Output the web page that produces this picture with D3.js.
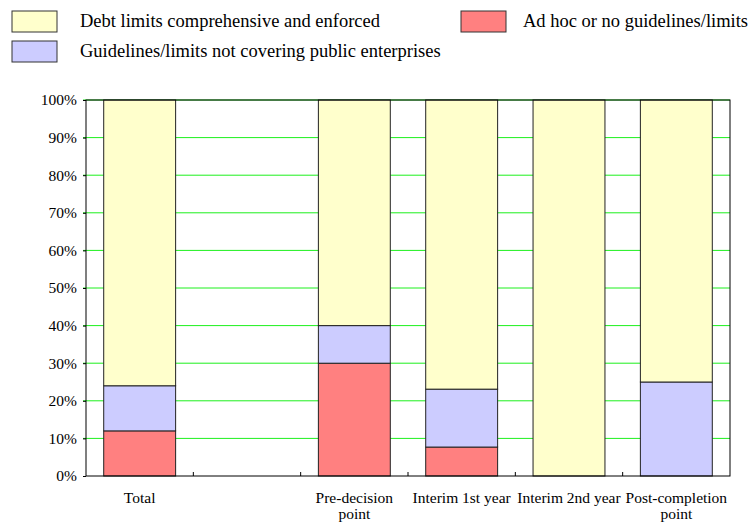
<!DOCTYPE html>
<html>
<head>
<meta charset="utf-8">
<script src="https://cdn.jsdelivr.net/npm/d3@7"></script>
<style>
  html, body { margin: 0; padding: 0; background: #fff; }
  svg { display: block; }
  text { font-family: "Liberation Serif", "Times New Roman", serif; fill: #000; }
</style>
</head>
<body>
<svg id="chart" width="752" height="526"></svg>
<script>
// Stage of the process (second slot is left blank)
const categories = ["Total", "", "Pre-decision point", "Interim 1st year", "Interim 2nd year", "Post-completion point"];
const categoryLines = [["Total"], [], ["Pre-decision", "point"], ["Interim 1st year"], ["Interim 2nd year"], ["Post-completion", "point"]];

// Share of cases (%) by type of debt limits
const adHoc         = [12, null, 30, 7.7, 0, 0];
const partialLimits = [12, null, 10, 15.4, 0, 25];
const comprehensive = [76, null, 60, 76.9, 100, 75];

const seriesNames  = ["Ad hoc or no guidelines/limits", "Guidelines/limits not covering public enterprises", "Debt limits comprehensive and enforced"];
const seriesColors = ["#ff8080", "#ccccff", "#ffffcc"];
const yTicks = [0, 10, 20, 30, 40, 50, 60, 70, 80, 90, 100];

const svg = d3.select("#chart");
const margin = { left: 86, right: 22, top: 100, bottom: 50 };
const W = 752, H = 526;
const plotW = W - margin.left - margin.right;
const plotH = H - margin.top - margin.bottom;

const x = d3.scaleBand().domain(d3.range(categories.length)).range([margin.left, margin.left + plotW]).paddingInner(0.33).paddingOuter(0.165);
const xBand = d3.scaleBand().domain(d3.range(categories.length)).range([margin.left, margin.left + plotW]);
const y = d3.scaleLinear().domain([0, 100]).range([margin.top + plotH, margin.top]);

// Gridlines
svg.append("g")
  .selectAll("line")
  .data(yTicks.filter(t => t > 0))
  .join("line")
  .attr("x1", margin.left - 3).attr("x2", margin.left + plotW)
  .attr("y1", d => y(d)).attr("y2", d => y(d))
  .attr("stroke", "#1cf01c").attr("stroke-width", 1);

// Stacked bars
const rows = categories.map((c, i) => ({ i, a: adHoc[i], b: partialLimits[i], c: comprehensive[i] }))
  .filter(r => r.a !== null);
const stack = d3.stack().keys(["a", "b", "c"]);
const layers = stack(rows);

svg.append("g")
  .selectAll("g")
  .data(layers)
  .join("g")
  .attr("fill", (d, k) => seriesColors[k])
  .selectAll("rect")
  .data(d => d.filter(p => p[1] - p[0] > 0))
  .join("rect")
  .attr("x", p => x(p.data.i))
  .attr("width", x.bandwidth())
  .attr("y", p => y(p[1]))
  .attr("height", p => y(p[0]) - y(p[1]))
  .attr("stroke", "#222")
  .attr("stroke-width", 1);

// Plot frame
svg.append("rect")
  .attr("x", margin.left).attr("y", margin.top)
  .attr("width", plotW).attr("height", plotH)
  .attr("fill", "none").attr("stroke", "#000").attr("stroke-width", 1);

// Y axis
const yAxis = d3.axisLeft(y).tickValues(yTicks).tickFormat(d => d + "%").tickSize(3).tickPadding(6);
const yg = svg.append("g").attr("transform", `translate(${margin.left},0)`).call(yAxis)
  .attr("font-family", "Liberation Serif");
yg.select(".domain").remove();
yg.selectAll("text").style("font-size", "15.5px");

// X axis: boundary ticks pointing inward
svg.append("g")
  .selectAll("line")
  .data(d3.range(1, categories.length))
  .join("line")
  .attr("x1", i => xBand(i)).attr("x2", i => xBand(i))
  .attr("y1", margin.top + plotH).attr("y2", margin.top + plotH - 4)
  .attr("stroke", "#000");

const xl = svg.append("g")
  .selectAll("text")
  .data(categoryLines.map((lines, i) => ({ lines, i })))
  .join("text")
  .attr("text-anchor", "middle")
  .style("font-size", "15.5px")
  .attr("x", d => x(d.i) + x.bandwidth() / 2)
  .attr("y", margin.top + plotH + 27);
xl.selectAll("tspan")
  .data(d => d.lines.map((l, k) => ({ l, k, cx: x(d.i) + x.bandwidth() / 2 })))
  .join("tspan")
  .attr("x", t => t.cx)
  .attr("dy", t => t.k === 0 ? 0 : 16)
  .text(t => t.l);

// Legend
const legendItems = [
  { k: 2, x: 12, y: 11, tx: 68 },
  { k: 0, x: 461, y: 11, tx: 62 },
  { k: 1, x: 12, y: 41, tx: 68 }
];
const lg = svg.append("g").selectAll("g").data(legendItems).join("g")
  .attr("transform", d => `translate(${d.x},${d.y})`);
lg.append("rect")
  .attr("width", 45).attr("height", 21)
  .attr("fill", d => seriesColors[d.k])
  .attr("stroke", "#333").attr("stroke-width", 1);
lg.append("text")
  .attr("x", d => d.tx).attr("y", 16)
  .style("font-size", "18.5px")
  .text(d => seriesNames[d.k]);
</script>
</body>
</html>
